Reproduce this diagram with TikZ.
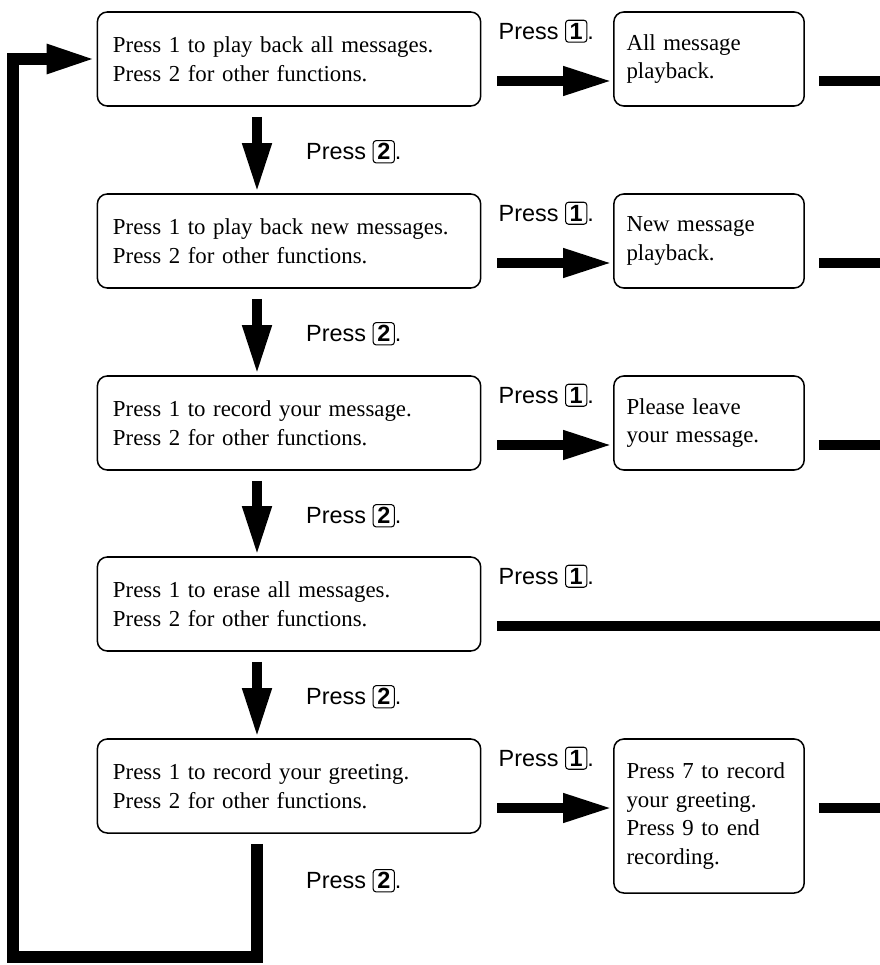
\documentclass[tikz,border=0pt]{standalone}
\usepackage{fontspec}
\setmainfont{Liberation Serif}
\setsansfont{Liberation Sans}
\usetikzlibrary{arrows.meta, calc}

\newcommand{\keycap}[1]{\tikz[baseline=(kc.base)]\node[draw, line width=0.9pt, rounded corners=2.5pt, inner xsep=3.5pt, inner ysep=2.5pt, font=\bfseries] (kc) {#1};}

\begin{document}
\begin{tikzpicture}[x=0.03cm, y=-0.03cm,
	menu/.style={draw, line width=1.3pt, rounded corners=0.3cm, minimum height=2.82cm, text width=10.56cm, inner xsep=0.47cm, align=left, font=\fontsize{19.5}{24.5}\selectfont},
	reply/.style={menu, text width=4.95cm, inner xsep=0.38cm},
	say/.style={anchor=west, inner sep=0pt, font=\sffamily\fontsize{20}{24}\selectfont},
	fat/.style={line width=0.32cm, -{Triangle[length=1.5cm, width=0.8cm]}},
	bar/.style={line width=0.32cm}]
	\useasboundingbox (0,0) rectangle (880,965);
	% menu boxes, left column
	\foreach \i/\y/\what in {1/59/play back all messages, 2/241/play back new messages, 3/423/record your message, 4/604/erase all messages, 5/786/record your greeting} {
		\node[menu] (b\i) at (289,\y) {Press 1 to \what.\\Press 2 for other functions.};
		\node[say] (k\i) at ($(b\i.north east)+(17,20)$) {Press \keycap{1}.};
		\coordinate (s\i) at ($(b\i.east)+(16,22)$);
	}
	% answers, right column
	\node[reply] (r1) at (709,59) {All message\\playback.};
	\node[reply] (r2) at (709,241) {New message\\playback.};
	\node[reply] (r3) at (709,423) {Please leave\\your message.};
	\node[reply, minimum height=4.62cm] (r5) at (709,816) {Press 7 to record\\your greeting.\\Press 9 to end\\recording.};
	\coordinate (edge) at (880,0);
	\foreach \i in {1,2,3,5} {
		\draw[fat] (s\i) -- (s\i -| r\i.west);
		\draw[bar] ($(r\i.east |- s\i)+(14,0)$) -- (s\i -| edge);
	}
	\draw[bar] (s4) -- (s4 -| edge);
	% Press 2: next menu
	\foreach \i/\j in {1/2,2/3,3/4,4/5} {
		\draw[fat] ($(b\i.south)+(-32,10)$) -- ($(b\j.north)+(-32,0)$);
		\node[say] (n\i) at ($(b\i.south)+(17,45)$) {Press \keycap{2}.};
	}
	\node[say] (n5) at ($(b5.south)+(17,47)$) {Press \keycap{2}.};
	% back to the top
	\coordinate (s6) at ($(b5.south)+(-32,10)$);
	\coordinate (corner) at (13,957);
	\draw[fat, line width=0.35cm] (s6) |- (corner) |- (b1.west);
\end{tikzpicture}
\end{document}
